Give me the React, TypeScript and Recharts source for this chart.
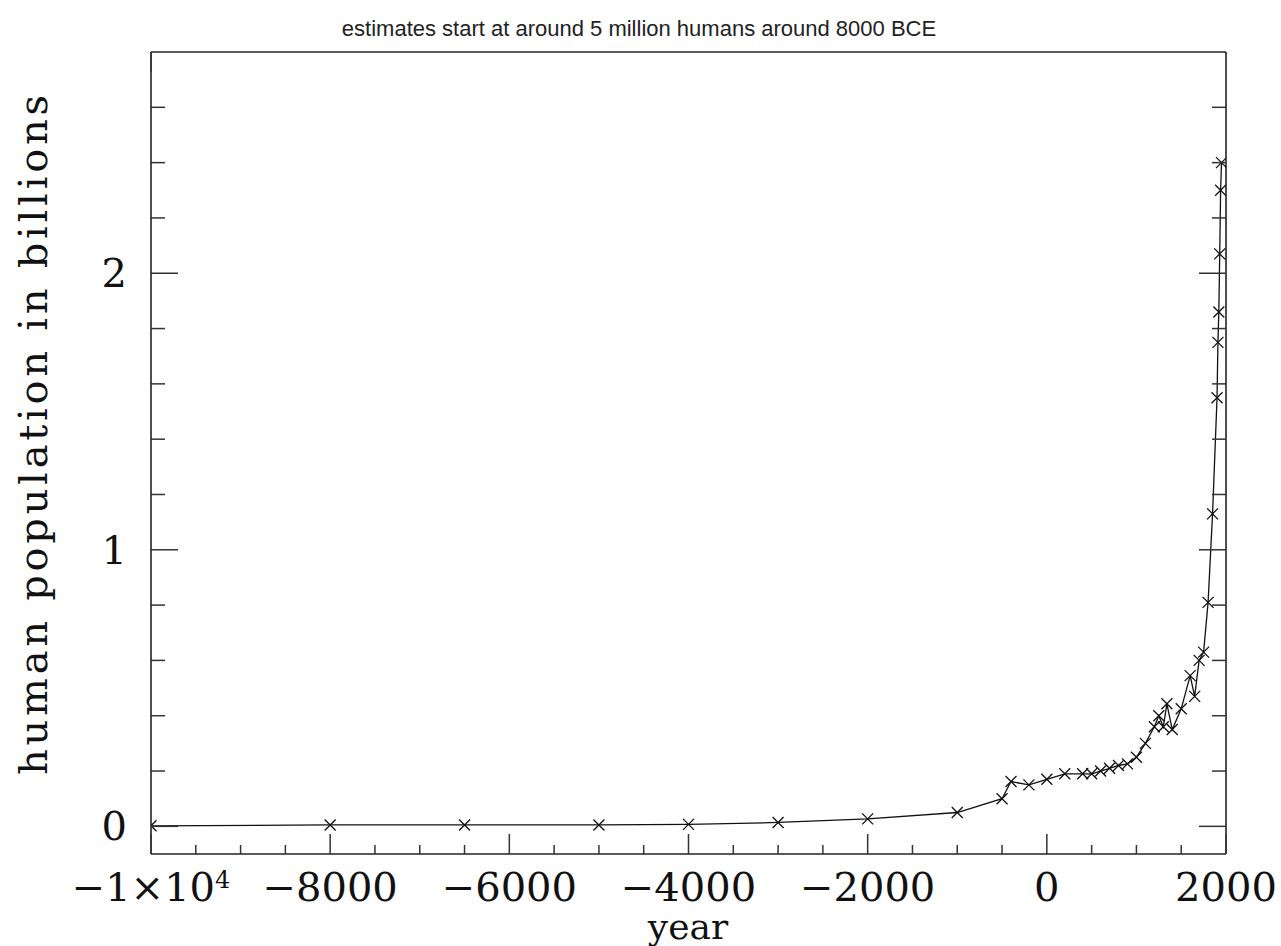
import { LineChart, Line, XAxis, YAxis } from 'recharts'

// population estimates
const years = [
  -10000, -8000, -6500, -5000, -4000, -3000, -2000, -1000, -500, -400, -200, 0,
  200, 400, 500, 600, 700, 800, 900, 1000, 1100, 1200, 1250, 1300, 1340, 1400,
  1500, 1600, 1650, 1700, 1750, 1800, 1850, 1900, 1910, 1920, 1930, 1940, 1950,
]
const billions = [
  0.002, 0.005, 0.005, 0.005, 0.007, 0.014, 0.027, 0.05, 0.1, 0.162, 0.15, 0.17,
  0.19, 0.19, 0.19, 0.2, 0.21, 0.22, 0.226, 0.25, 0.3, 0.36, 0.4, 0.36, 0.443, 0.35,
  0.425, 0.545, 0.47, 0.6, 0.63, 0.81, 1.13, 1.55, 1.75, 1.86, 2.07, 2.3, 2.4,
]

const majorYears = [-10000, -8000, -6000, -4000, -2000, 0, 2000]
const yearLabels = ['−1×10', '−8000', '−6000', '−4000', '−2000', '0', '2000']
const majorPop = [0, 1, 2]
const popLabels = ['0', '1', '2']

const yearTicks: number[] = []
for (let y = -10000; y <= 2000; y += 500) yearTicks.push(y)
const popTicks: number[] = []
for (let k = 0; k <= 13; k++) popTicks.push(k / 5)

const data = years.map((year, i) => ({ year, pop: billions[i] }))

const W = 1281
const H = 946
const INK = '#111'
const SERIF = '"DejaVu Serif", serif'

const isMajorYear = (v: number) => majorYears.includes(v)
const isMajorPop = (v: number) => majorPop.some((m) => Math.abs(m - v) < 1e-6)

function BottomTick(props: any) {
  const { x, y, payload } = props
  const v = payload.value
  const major = isMajorYear(v)
  const idx = majorYears.indexOf(v)
  return (
    <g>
      <line x1={x} y1={y} x2={x} y2={y - (major ? 20 : 9)} stroke="#333" strokeWidth={1.5} />
      {major && (
        <text x={x} y={y + 47} textAnchor="middle" fontFamily={SERIF} fontSize={40} fill={INK}>
          {yearLabels[idx]}
          {v === -10000 && (
            <tspan fontSize={24} dy={-13}>
              4
            </tspan>
          )}
        </text>
      )}
    </g>
  )
}

function TopTick(props: any) {
  const { x, y, payload } = props
  const major = isMajorYear(payload.value)
  return <line x1={x} y1={y} x2={x} y2={y + (major ? 20 : 9)} stroke="#333" strokeWidth={1.5} />
}

function LeftTick(props: any) {
  const { x, y, payload } = props
  const v = payload.value
  const major = isMajorPop(v)
  const idx = majorPop.findIndex((m) => Math.abs(m - v) < 1e-6)
  return (
    <g>
      <line x1={x} y1={y} x2={x + (major ? 27 : 14)} y2={y} stroke="#333" strokeWidth={1.5} />
      {major && (
        <text x={x - 24} y={y + 14} textAnchor="end" fontFamily={SERIF} fontSize={40} fill={INK}>
          {popLabels[idx]}
        </text>
      )}
    </g>
  )
}

function RightTick(props: any) {
  const { x, y, payload } = props
  const major = isMajorPop(payload.value)
  return <line x1={x} y1={y} x2={x - (major ? 27 : 14)} y2={y} stroke="#333" strokeWidth={1.5} />
}

const renderCross = (props: any) => {
  const { cx, cy, index } = props
  const s = 5.5
  return (
    <path
      key={`cross-${index}`}
      d={`M${cx - s},${cy - s}L${cx + s},${cy + s}M${cx - s},${cy + s}L${cx + s},${cy - s}`}
      stroke={INK}
      strokeWidth={1.3}
      fill="none"
    />
  )
}

export default function App() {
  const axisLine = { stroke: '#222', strokeWidth: 1.6 }
  return (
    <div style={{ position: 'absolute', left: 0, top: 0, width: W, height: H, background: '#fff' }}>
      <LineChart
        width={W}
        height={H}
        data={data}
        margin={{ top: 42, right: 45, bottom: 52, left: 91 }}
      >
        <XAxis
          dataKey="year"
          type="number"
          domain={[-10000, 2000]}
          ticks={yearTicks}
          interval={0}
          allowDataOverflow
          height={40}
          tickSize={0}
          tickMargin={0}
          tickLine={false}
          axisLine={axisLine}
          tick={<BottomTick />}
        />
        <XAxis
          xAxisId="top"
          orientation="top"
          type="number"
          domain={[-10000, 2000]}
          ticks={yearTicks}
          interval={0}
          allowDataOverflow
          height={10}
          tickSize={0}
          tickMargin={0}
          tickLine={false}
          axisLine={axisLine}
          tick={<TopTick />}
        />
        <YAxis
          type="number"
          domain={[-0.1, 2.8]}
          ticks={popTicks}
          interval={0}
          allowDataOverflow
          width={60}
          tickSize={0}
          tickMargin={0}
          tickLine={false}
          axisLine={axisLine}
          tick={<LeftTick />}
        />
        <YAxis
          yAxisId="right"
          orientation="right"
          type="number"
          domain={[-0.1, 2.8]}
          ticks={popTicks}
          interval={0}
          allowDataOverflow
          width={10}
          tickSize={0}
          tickMargin={0}
          tickLine={false}
          axisLine={axisLine}
          tick={<RightTick />}
        />
        <Line
          dataKey="pop"
          type="linear"
          stroke={INK}
          strokeWidth={1.3}
          dot={renderCross}
          activeDot={false}
          isAnimationActive={false}
        />
      </LineChart>
      <svg
        width={W}
        height={H}
        style={{ position: 'absolute', left: 0, top: 0, pointerEvents: 'none' }}
      >
        <text x={639} y={36} textAnchor="middle" fontFamily='"Liberation Sans", Arial, sans-serif' fontSize={22} fill="#222">
          estimates start at around 5 million humans around 8000 BCE
        </text>
        <text
          x={0}
          y={0}
          transform="translate(47, 435) rotate(-90)"
          textAnchor="middle"
          fontFamily={SERIF}
          fontSize={40}
          textLength={680}
          lengthAdjust="spacing"
          fill={INK}
        >
          human population in billions
        </text>
        <text x={688} y={939} textAnchor="middle" fontFamily={SERIF} fontSize={36} fill={INK}>
          year
        </text>
      </svg>
    </div>
  )
}
